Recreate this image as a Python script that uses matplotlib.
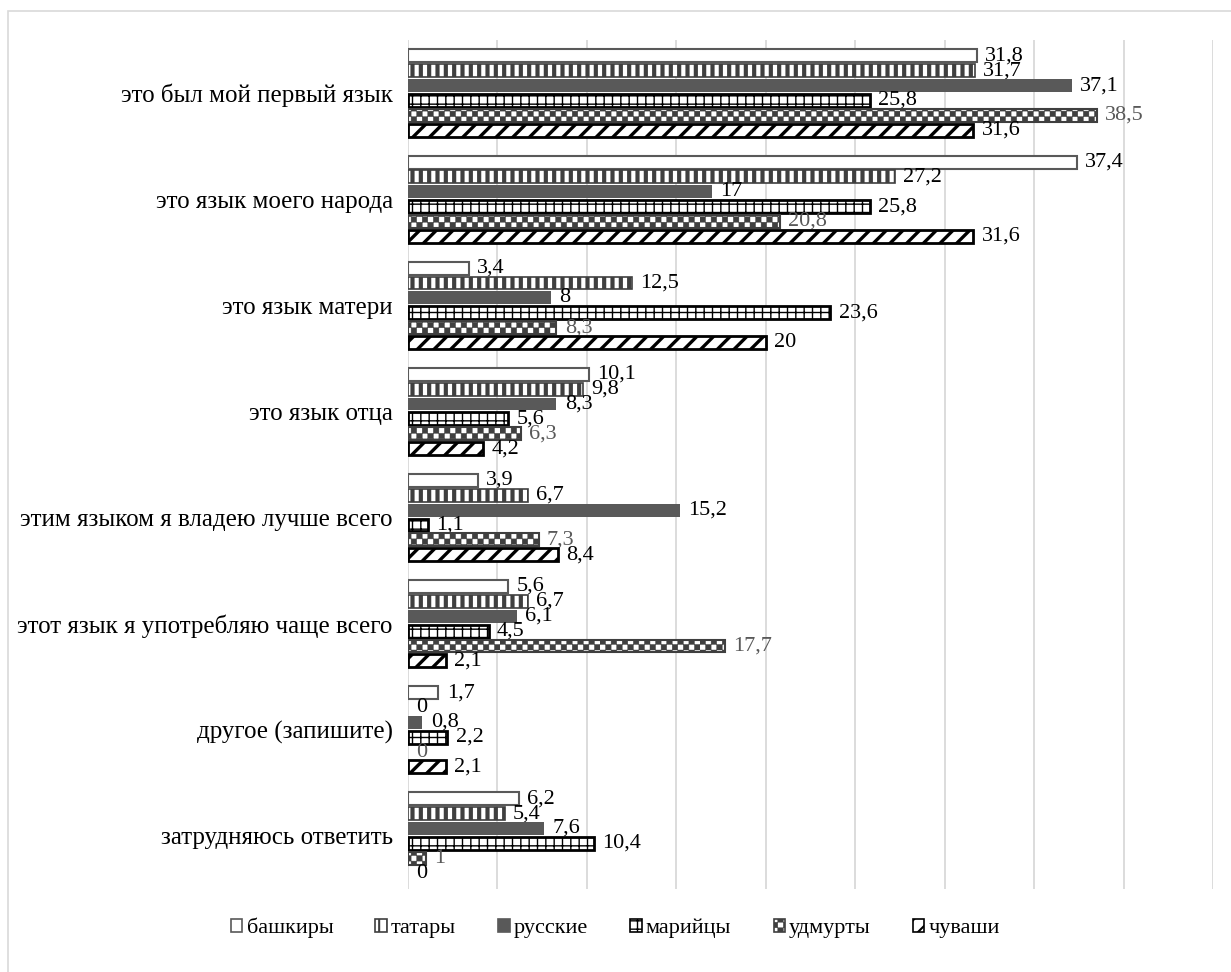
import warnings
import numpy as np
import matplotlib
matplotlib.use('Agg')
import matplotlib.pyplot as plt
import matplotlib.hatch as mhatch
from matplotlib.path import Path
from matplotlib.patches import Rectangle

warnings.filterwarnings('ignore', message='.*hatch must consist.*')

categories = ['это был мой первый язык', 'это язык моего народа', 'это язык матери',
              'это язык отца', 'этим языком я владею лучше всего',
              'этот язык я употребляю чаще всего', 'другое (запишите)',
              'затрудняюсь ответить']
series_names = ['башкиры', 'татары', 'русские', 'марийцы', 'удмурты', 'чуваши']

bashkiry = [31.8, 37.4, 3.4, 10.1, 3.9, 5.6, 1.7, 6.2]
tatary = [31.7, 27.2, 12.5, 9.8, 6.7, 6.7, 0, 5.4]
russkie = [37.1, 17, 8, 8.3, 15.2, 6.1, 0.8, 7.6]
mariytsy = [25.8, 25.8, 23.6, 5.6, 1.1, 4.5, 2.2, 10.4]
udmurty = [38.5, 20.8, 8.3, 6.3, 7.3, 17.7, 0, 1]
chuvashi = [31.6, 31.6, 20, 4.2, 8.4, 2.1, 2.1, 0]


# checkerboard hatch, there is no such built-in pattern
class CheckerHatch(mhatch.HatchPatternBase):
    def __init__(self, hatch, density):
        self.num_rows = int(hatch.count('c') * density)
        self.num_vertices = (self.num_rows * self.num_rows // 2) * 5

    def set_vertices_and_codes(self, vertices, codes):
        s = 1.0 / self.num_rows
        k = 0
        for i in range(self.num_rows):
            for j in range(self.num_rows):
                if (i + j) % 2:
                    continue
                x, y = j * s, i * s
                vertices[k:k + 5] = [(x, y), (x + s, y), (x + s, y + s), (x, y + s), (x, y)]
                codes[k] = Path.MOVETO
                codes[k + 1:k + 4] = Path.LINETO
                codes[k + 4] = Path.CLOSEPOLY
                k += 5


mhatch._hatch_types.append(CheckerHatch)


# hatch linewidth is read when the patch is drawn, so wrap draw
def with_hatch_lw(patch, hlw):
    if hasattr(patch, 'set_hatch_linewidth'):
        patch.set_hatch_linewidth(hlw)
    orig = patch.draw

    def draw(renderer):
        with plt.rc_context({'hatch.linewidth': hlw}):
            orig(renderer)
    patch.draw = draw


# style for each series: face, edge/hatch colour, hatch, edge width, hatch width
styles = [
    dict(face='white', edge='#595959', hatch=None, lw=1.5, hlw=1.0),
    dict(face='white', edge='#3f3f3f', hatch='||', lw=1.2, hlw=3.0),
    dict(face='#595959', edge='#595959', hatch=None, lw=0.0, hlw=1.0),
    dict(face='white', edge='black', hatch='++', lw=2.0, hlw=1.0),
    dict(face='white', edge='#3f3f3f', hatch='ccc', lw=1.5, hlw=0.3),
    dict(face='white', edge='black', hatch='//', lw=2.0, hlw=2.4),
]
label_colors = ['black', 'black', 'black', 'black', '#595959', 'black']

plt.rcParams['font.family'] = ['Liberation Serif', 'DejaVu Serif']

fig = plt.figure(figsize=(12.31, 9.72), dpi=100)
ax = fig.add_axes([408 / 1231, 1 - 889 / 972, (1213 - 408) / 1231, (889 - 40) / 972])

# light grey frame around the chart area
fig.patches.append(Rectangle((8 / 1231, -0.1), 1.5, 1.1 - 11 / 972, transform=fig.transFigure,
                             fill=False, edgecolor='#d9d9d9', linewidth=1.2))

all_series = [bashkiry, tatary, russkie, mariytsy, udmurty, chuvashi]
y = np.arange(len(categories))
slot = 0.14
bar_h = 0.122

handles = []
for j, (vals, st) in enumerate(zip(all_series, styles)):
    pos = y + (j - 2.5) * slot
    lws = [st['lw'] if v > 0 else 0 for v in vals]
    bars = ax.barh(pos, vals, height=bar_h, color=st['face'], edgecolor=st['edge'],
                   hatch=st['hatch'], linewidth=lws, label=series_names[j], zorder=3)
    for p in bars:
        with_hatch_lw(p, st['hlw'])
    handles.append(bars)
    labels = [str(v).replace('.', ',') if v != int(v) else str(int(v)) for v in vals]
    ax.bar_label(bars, labels=labels, padding=6, fontsize=16, color=label_colors[j])

ax.set_xlim(0, 45)
ax.set_ylim(len(categories) - 0.5, -0.5)
ax.set_xticks(np.arange(0, 46, 5))
ax.set_xticklabels([])
ax.set_yticks(y)
ax.set_yticklabels(categories, fontsize=18)
ax.tick_params(length=0, pad=11)
ax.grid(axis='x', color='#d9d9d9', linewidth=1.3, zorder=0)
ax.set_axisbelow(True)
for s in ax.spines.values():
    s.set_visible(False)

leg = fig.legend(handles=handles, loc='center', bbox_to_anchor=(0.5, 1 - 928 / 972), ncol=6,
                 frameon=False, fontsize=16, handlelength=0.5, handleheight=0.5,
                 handletextpad=0.2, columnspacing=1.9)
for h, st in zip(leg.legend_handles, styles):
    h.set_linewidth(1.2)
    with_hatch_lw(h, min(st['hlw'], 1.5))

fig.savefig('out.png', dpi=100)
